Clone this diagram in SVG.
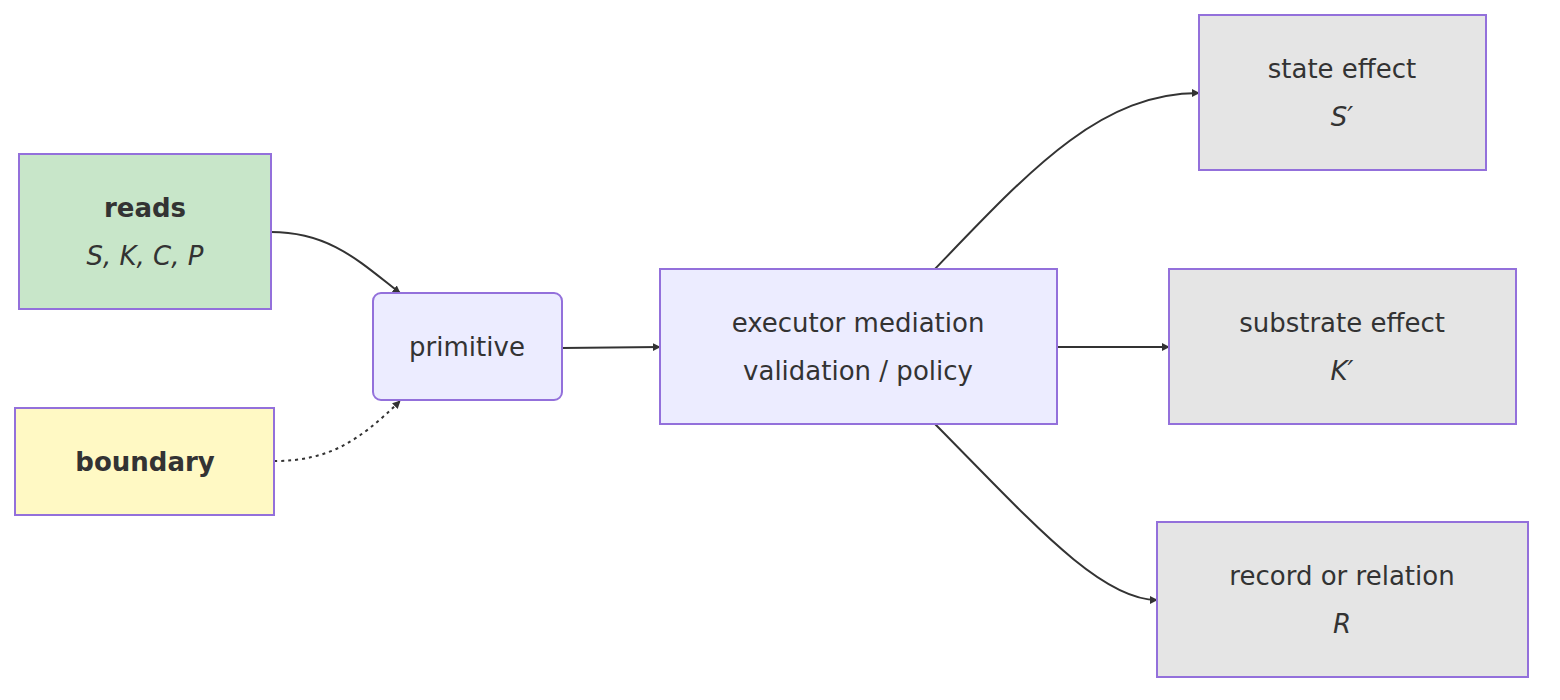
<svg xmlns="http://www.w3.org/2000/svg" width="1560" height="700" viewBox="0 0 1560 700">
<style>
text{font-family:"DejaVu Sans",Verdana,sans-serif;font-size:26px;fill:#333;text-anchor:middle}
.b{font-weight:bold}.i{font-style:italic}
.n{stroke:#9370db;stroke-width:2}
.e{fill:none;stroke:#333;stroke-width:2}
.d{stroke-dasharray:3,4}
</style>
<defs><marker id="a" viewBox="0 0 10 10" refX="9" refY="5" markerWidth="8" markerHeight="8" markerUnits="userSpaceOnUse" orient="auto"><path d="M0,0L10,5L0,10z" fill="#333"/></marker></defs>
<rect width="1560" height="700" fill="#fff"/>
<g id="edges">
<path class="e" d="M271,232 C330,232 360,262 400,293" marker-end="url(#a)" transform="translate(0,0)"/>
<path class="e d" d="M274,461 C330,461 360,440 400,401" marker-end="url(#a)"/>
<path class="e" d="M562,348 L660,347" marker-end="url(#a)"/>
<path class="e" d="M935,269 C1030,170 1100,93 1199,93" marker-end="url(#a)"/>
<path class="e" d="M1057,347 L1169,347" marker-end="url(#a)"/>
<path class="e" d="M935,424 C1030,520 1100,600 1157,600" marker-end="url(#a)"/>
</g>
<g id="reads"><rect class="n" x="19" y="154" width="252" height="155" fill="#c8e6c9"/><text class="b" x="145" y="217">reads</text><text class="i" x="145" y="265">S, K, C, P</text></g>
<g id="boundary"><rect class="n" x="15" y="408" width="259" height="107" fill="#fff9c4"/><text class="b" x="145" y="471">boundary</text></g>
<g id="primitive"><rect class="n" x="373" y="293" width="189" height="107" rx="8" fill="#ececff"/><text x="467" y="356">primitive</text></g>
<g id="executor"><rect class="n" x="660" y="269" width="397" height="155" fill="#ececff"/><text x="858" y="332">executor mediation</text><text x="858" y="380">validation / policy</text></g>
<g id="state"><rect class="n" x="1199" y="15" width="287" height="155" fill="#e5e5e5"/><text x="1342" y="78">state effect</text><text class="i" x="1342" y="126">S′</text></g>
<g id="substrate"><rect class="n" x="1169" y="269" width="347" height="155" fill="#e5e5e5"/><text x="1342" y="332">substrate effect</text><text class="i" x="1342" y="380">K′</text></g>
<g id="record"><rect class="n" x="1157" y="522" width="371" height="155" fill="#e5e5e5"/><text x="1342" y="585">record or relation</text><text class="i" x="1342" y="633">R</text></g>
</svg>
